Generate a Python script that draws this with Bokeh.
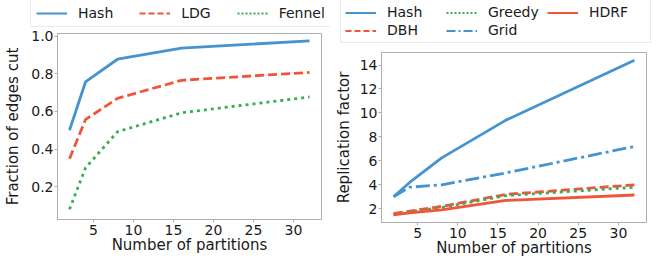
from bokeh.plotting import figure
from bokeh.layouts import row, column
from bokeh.models import Range1d, FixedTicker, PrintfTickFormatter, Legend, LegendItem
from bokeh.embed import file_html
from bokeh.resources import INLINE

# ---- data ----
partitions = [2, 4, 8, 16, 32]

cut_hash = [0.50, 0.757, 0.878, 0.937, 0.976]
cut_ldg = [0.348, 0.557, 0.670, 0.766, 0.808]
cut_fennel = [0.079, 0.300, 0.492, 0.593, 0.677]

rf_hash = [3.0, 4.2, 6.25, 9.4, 14.4]
rf_dbh = [1.6, 1.8, 2.2, 3.2, 4.0]
rf_greedy = [1.5, 1.75, 2.1, 3.1, 3.8]
rf_grid = [3.0, 3.8, 4.0, 5.0, 7.2]
rf_hdrf = [1.5, 1.65, 1.9, 2.7, 3.15]

x_ticks = [5, 10, 15, 20, 25, 30]
cut_ticks = [0.2, 0.4, 0.6, 0.8, 1.0]
rf_ticks = [2, 4, 6, 8, 10, 12, 14]

FONT = "DejaVu Sans"
BLUE = "#4594cf"
RED = "#f0553b"
GREEN = "#3aae52"
GREY = "#b0b0b0"
TXT = "#1a1a1a"
LW = 2.8


def style(p, xlabel, ylabel, ylabel_standoff):
    p.outline_line_color = GREY
    p.outline_line_width = 1
    p.xgrid.visible = False
    p.ygrid.visible = False
    p.background_fill_color = "white"
    p.border_fill_color = "white"
    for ax in (p.xaxis[0], p.yaxis[0]):
        ax.axis_line_color = GREY
        ax.major_tick_line_color = GREY
        ax.major_tick_out = 3
        ax.major_tick_in = 0
        ax.minor_tick_line_color = None
        ax.major_label_text_font = FONT
        ax.major_label_text_font_size = "14px"
        ax.major_label_text_color = TXT
        ax.axis_label_text_font = FONT
        ax.axis_label_text_font_size = "15px"
        ax.axis_label_text_font_style = "normal"
        ax.axis_label_text_color = TXT
    p.xaxis.axis_label = xlabel
    p.yaxis.axis_label = ylabel
    p.xaxis.major_label_standoff = 2
    p.yaxis.major_label_standoff = 1
    p.xaxis.axis_label_standoff = -2
    p.yaxis.axis_label_standoff = ylabel_standoff
    p.xaxis.ticker = FixedTicker(ticks=x_ticks)


def legend_fig(width, height):
    # a small canvas that only carries a legend; its ranges keep the data lines out of view
    f = figure(width=width, height=height, output_backend="svg", toolbar_location=None,
               title=None, x_axis_location=None, y_axis_location=None,
               x_range=Range1d(-2, -1), y_range=Range1d(-2, -1), min_border=0)
    f.outline_line_color = None
    f.xgrid.visible = False
    f.ygrid.visible = False
    f.background_fill_color = "white"
    f.border_fill_color = "white"
    return f


def legend_style(lg):
    lg.label_text_font = FONT
    lg.label_text_font_size = "14px"
    lg.label_text_color = TXT
    lg.border_line_color = "#d6d6d6"
    lg.border_line_width = 1
    lg.background_fill_color = "white"
    lg.background_fill_alpha = 0.9
    lg.glyph_width = 31
    lg.label_standoff = 11
    lg.margin = 0


# ---- left: fraction of edges cut ----
lf1 = legend_fig(330, 27)
l1a = lf1.line(partitions, cut_hash, line_color=BLUE, line_width=2)
l1b = lf1.line(partitions, cut_ldg, line_color=RED, line_width=2, line_dash="6 3")
l1c = lf1.line(partitions, cut_fennel, line_color=GREEN, line_width=2, line_dash="2 2")
leg1 = Legend(items=[LegendItem(label="Hash", renderers=[l1a]),
                     LegendItem(label="LDG", renderers=[l1b]),
                     LegendItem(label="Fennel", renderers=[l1c])],
              location=(30, 0), orientation="horizontal")
legend_style(leg1)
leg1.padding = 5
leg1.spacing = 26
leg1.glyph_height = 16
leg1.label_height = 16
lf1.add_layout(leg1)

p1 = figure(width=330, height=235, output_backend="svg", toolbar_location=None, title=None,
            x_range=Range1d(0.5, 33.5), y_range=Range1d(0.025, 1.015),
            min_border_left=57, min_border_right=9, min_border_top=6, min_border_bottom=43)
style(p1, "Number of partitions", "Fraction of edges cut", 6)
p1.yaxis.ticker = FixedTicker(ticks=cut_ticks)
p1.yaxis.formatter = PrintfTickFormatter(format="%.1f")

p1.line(partitions, cut_hash, line_color=BLUE, line_width=LW)
p1.line(partitions, cut_ldg, line_color=RED, line_width=LW, line_dash="9 4")
p1.line(partitions, cut_fennel, line_color=GREEN, line_width=LW, line_dash="3 4")

# ---- right: replication factor ----
lf2 = legend_fig(325, 51)
l2a = lf2.line(partitions, rf_hash, line_color=BLUE, line_width=2)
l2b = lf2.line(partitions, rf_dbh, line_color=RED, line_width=2, line_dash="6 3")
l2c = lf2.line(partitions, rf_greedy, line_color=GREEN, line_width=2, line_dash="2 2")
l2d = lf2.line(partitions, rf_grid, line_color=BLUE, line_width=2, line_dash="9 3 2 3")
l2e = lf2.line(partitions, rf_hdrf, line_color=RED, line_width=2)
leg2 = Legend(items=[LegendItem(label="Hash", renderers=[l2a]),
                     LegendItem(label="DBH", renderers=[l2b]),
                     LegendItem(label="Greedy", renderers=[l2c]),
                     LegendItem(label="Grid", renderers=[l2d]),
                     LegendItem(label="HDRF", renderers=[l2e])],
              location=(10, 8), orientation="vertical", nrows=2)
legend_style(leg2)
leg2.padding = 4
leg2.spacing = 2
leg2.label_height = 15
leg2.glyph_height = 15
leg2.label_width = 57
lf2.add_layout(leg2)

p2 = figure(width=325, height=211, output_backend="svg", toolbar_location=None, title=None,
            x_range=Range1d(0.5, 33.5), y_range=Range1d(0.855, 15.045),
            min_border_left=51, min_border_right=9, min_border_top=1, min_border_bottom=40)
style(p2, "Number of partitions", "Replication factor", 4)
p2.yaxis.ticker = FixedTicker(ticks=rf_ticks)

p2.line(partitions, rf_hash, line_color=BLUE, line_width=LW)
p2.line(partitions, rf_dbh, line_color=RED, line_width=LW, line_dash="9 4")
p2.line(partitions, rf_greedy, line_color=GREEN, line_width=LW, line_dash="3 4")
p2.line(partitions, rf_grid, line_color=BLUE, line_width=LW, line_dash="14 4 3 4")
p2.line(partitions, rf_hdrf, line_color=RED, line_width=LW)

layout = row(column(row(lf1), row(p1)), column(row(lf2), row(p2)))
open("out.html", "w").write(file_html(layout, INLINE))
